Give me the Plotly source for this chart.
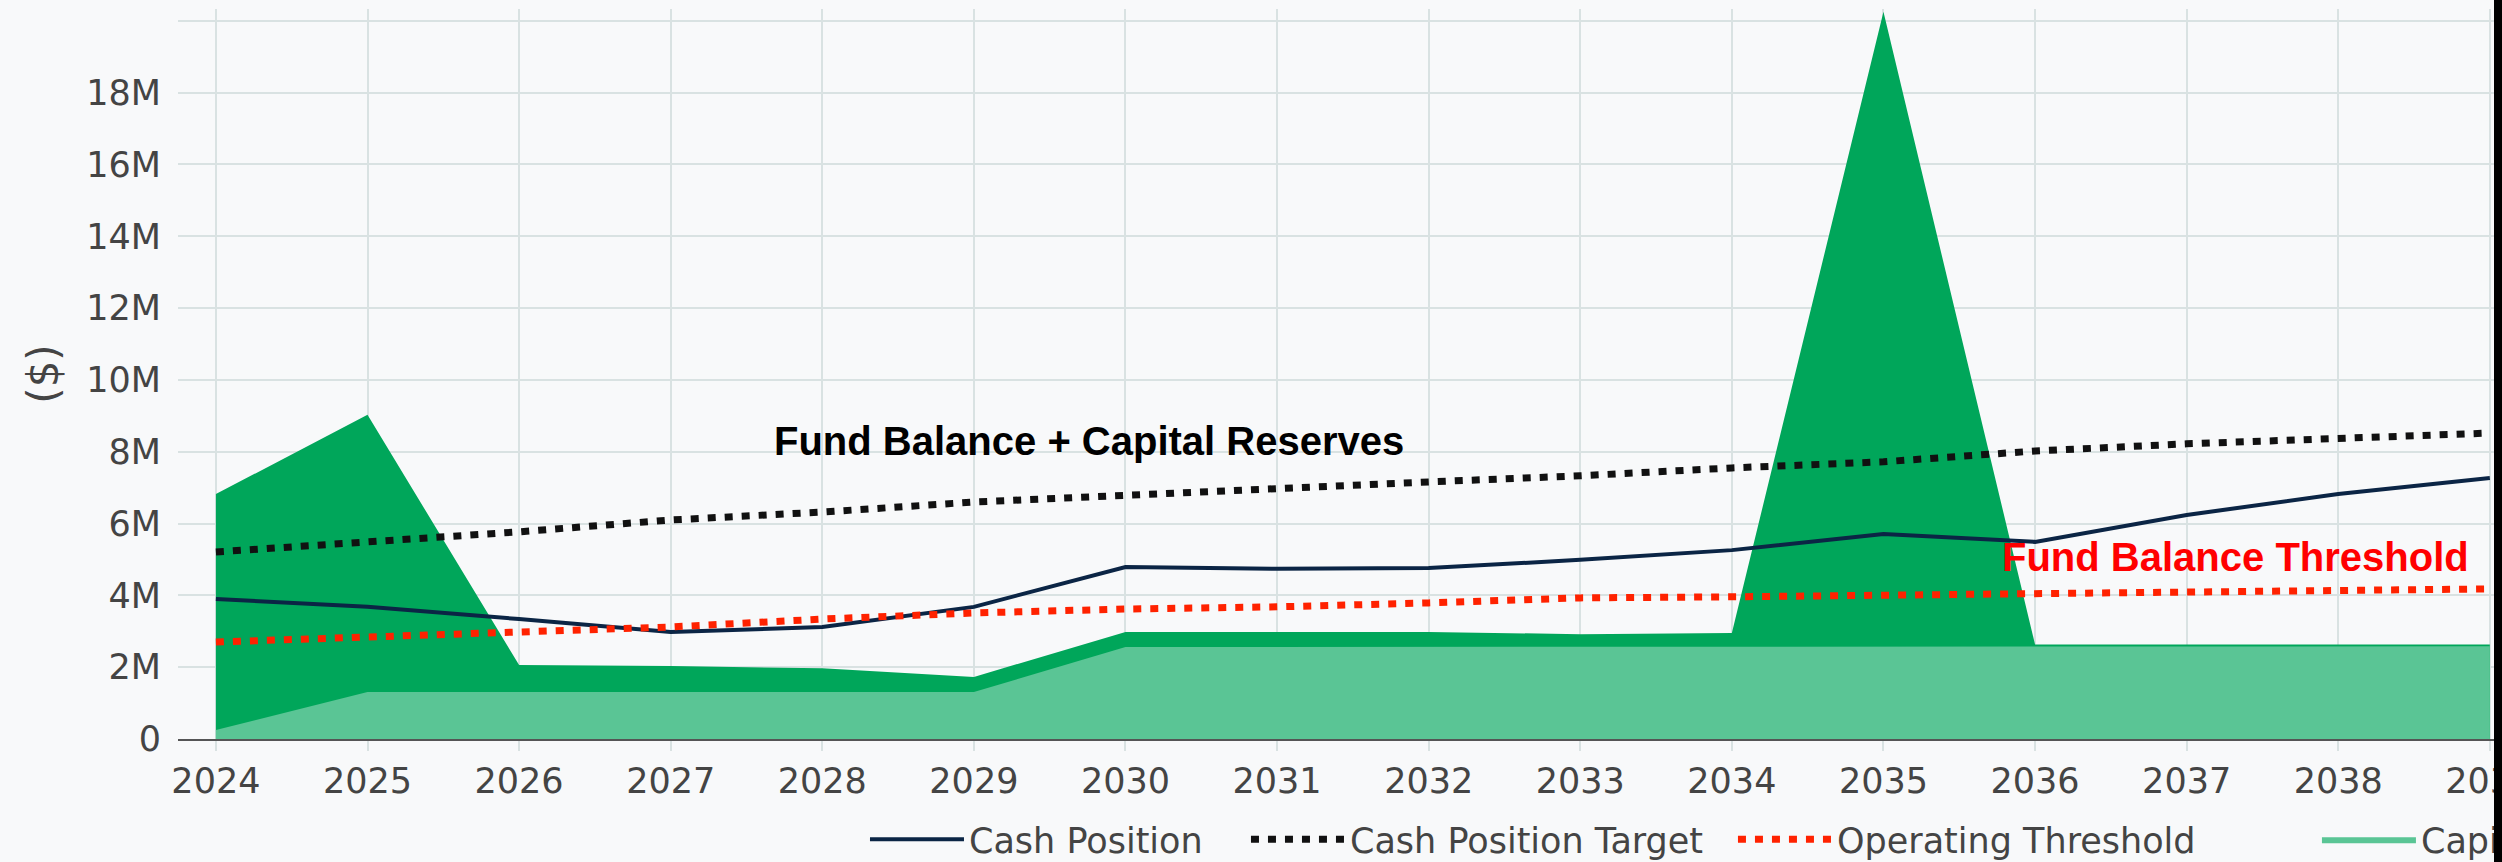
import plotly.graph_objects as go

years = list(range(2024, 2040))

cash_position = [3.90, 3.68, 3.34, 2.98, 3.12, 3.68, 4.79, 4.74, 4.76, 4.99,
                 5.26, 5.71, 5.49, 6.24, 6.82, 7.27]
cash_target = [5.21, 5.49, 5.77, 6.10, 6.32, 6.60, 6.80, 6.99, 7.16, 7.33,
               7.55, 7.72, 8.02, 8.22, 8.38, 8.52]
operating_threshold = [2.70, 2.84, 2.98, 3.12, 3.34, 3.51, 3.62, 3.68, 3.79, 3.93,
                       3.96, 4.01, 4.07, 4.09, 4.15, 4.18]
capital_reserves = [0.25, 1.31, 1.31, 1.31, 1.31, 1.31, 2.56, 2.56, 2.56, 2.57,
                    2.57, 2.57, 2.58, 2.58, 2.58, 2.58]
fund_balance_total = [6.82, 9.03, 2.06, 2.03, 1.97, 1.73, 2.98, 2.98, 2.98, 2.92,
                      2.95, 20.25, 2.63, 2.63, 2.63, 2.63]

y_tickvals = [0, 2, 4, 6, 8, 10, 12, 14, 16, 18, 20]
y_ticktext = ["0", "2M", "4M", "6M", "8M", "10M", "12M", "14M", "16M", "18M", ""]

M = 1e6
def scale(v):
    return [x * M for x in v]

BG = "#f8f9fa"
GRID = "#d9e2e2"
FONT = "DejaVu Sans"
ANN_FONT = "Liberation Sans, Arial, sans-serif"
TICK_SIZE = 35

W, H = 3400, 862
L, T, B = 178, 9, 123
x0, x1 = 2023.75, 2039.1
P = (x1 - x0) * 151.6
R = W - L - P
PH = H - T - B

fig = go.Figure()

fig.add_trace(go.Scatter(
    x=years, y=scale(fund_balance_total), name="Fund Balance",
    mode="lines", line=dict(width=0, color="#00a65a"),
    fill="tozeroy", fillcolor="#00a65a", legend="legend5"))
fig.add_trace(go.Scatter(
    x=years, y=scale(capital_reserves), name="Capital Reserves",
    mode="lines", line=dict(width=0, color="#5ac595"),
    fill="tozeroy", fillcolor="#5ac595", legend="legend4"))
fig.add_trace(go.Scatter(
    x=years, y=scale(cash_position), name="Cash Position",
    mode="lines", line=dict(width=4, color="#0b2545"), legend="legend"))
fig.add_trace(go.Scatter(
    x=years, y=scale(cash_target), name="Cash Position Target",
    mode="lines", line=dict(width=7, color="#111111", dash="8px,9px"), legend="legend2"))
fig.add_trace(go.Scatter(
    x=years, y=scale(operating_threshold), name="Operating Threshold",
    mode="lines", line=dict(width=7, color="#ff2200", dash="8px,9px"), legend="legend3"))

fig.add_annotation(x=2029.76, y=8.30 * M, text="<b>Fund Balance + Capital Reserves</b>",
                   showarrow=False, xanchor="center", yanchor="middle",
                   font=dict(family=ANN_FONT, size=40, color="#000000"))
fig.add_annotation(x=2037.32, y=5.07 * M, text="<b>Fund Balance Threshold</b>",
                   showarrow=False, xanchor="center", yanchor="middle",
                   font=dict(family=ANN_FONT, size=40, color="#ff0000"))

def legend_at(px):
    return dict(orientation="h", xanchor="left", yanchor="top",
                x=(px - L) / P, y=-(810 - 739) / PH,
                font=dict(family=FONT, size=35, color="#444444"),
                itemwidth=94, bgcolor="rgba(0,0,0,0)")

fig.update_layout(
    width=W, height=H,
    margin=dict(l=L, r=R, t=T, b=B, autoexpand=False),
    paper_bgcolor=BG, plot_bgcolor=BG,
    font=dict(family=FONT, size=TICK_SIZE, color="#444444"),
    showlegend=True,
    legend=legend_at(865),
    legend2=legend_at(1246),
    legend3=legend_at(1733),
    legend4=legend_at(2317),
    legend5=legend_at(2950),
    xaxis=dict(range=[x0, x1], tickmode="array", tickvals=years,
               showgrid=True, gridcolor=GRID, gridwidth=2,
               ticks="outside", ticklen=10, tickwidth=2, tickcolor=GRID,
               showline=True, linecolor="#555555", linewidth=2,
               zeroline=False, tickfont=dict(size=TICK_SIZE), automargin=False),
    yaxis=dict(range=[0, 20.33 * M], tickmode="array",
               tickvals=[v * M for v in y_tickvals], ticktext=y_ticktext,
               showgrid=True, gridcolor=GRID, gridwidth=2,
               zeroline=False, ticklabelstandoff=16,
               tickfont=dict(size=TICK_SIZE), automargin=False,
               title=dict(text="($)", font=dict(size=42), standoff=14)),
)

post = ("document.body.style.margin='0';document.body.style.background='#000';"
        "document.body.style.overflow='hidden';"
        "var d=document.getElementById('{plot_id}');"
        "d.parentElement.style.width='2494px';d.parentElement.style.overflow='hidden';")

fig.write_html("out.html", post_script=post)
